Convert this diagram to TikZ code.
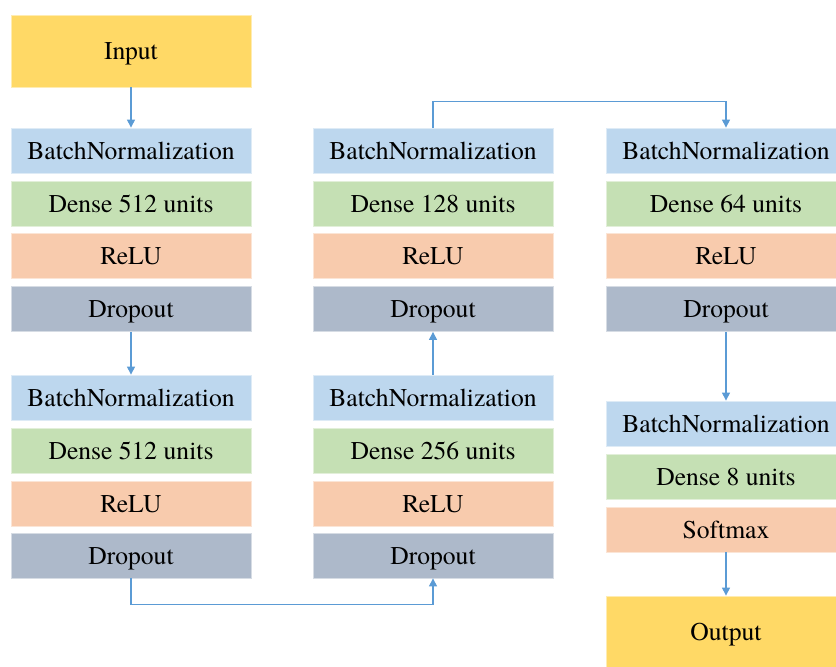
\documentclass[tikz,border=0pt]{standalone}
\usepackage{fontspec}
\setmainfont{texgyretermes-regular.otf}
\usepackage{tikz}
\usetikzlibrary{arrows.meta,positioning}
\definecolor{ioyellow}{HTML}{FFD966}
\definecolor{bnblue}{HTML}{BDD7EE}
\definecolor{densegreen}{HTML}{C5E0B4}
\definecolor{actorange}{HTML}{F8CBAD}
\definecolor{dropgray}{HTML}{ADB9CA}
\definecolor{flowblue}{HTML}{5B9BD5}

\tikzset{
    layer/.style={rectangle, minimum width=240pt, minimum height=45pt, inner sep=0pt, line width=0.8pt,
        text height=17pt, text depth=0pt, font=\fontsize{25.6}{30}\selectfont},
    bnlayer/.style={layer, fill=bnblue, draw=bnblue!50!white},
    denselayer/.style={layer, fill=densegreen, draw=densegreen!50!white},
    actlayer/.style={layer, fill=actorange, draw=actorange!50!white},
    droplayer/.style={layer, fill=dropgray, draw=dropgray!50!white},
    iolayer/.style={layer, minimum height=72pt, fill=ioyellow, draw=ioyellow!50!white},
    flow/.style={draw=flowblue, line width=1.1pt, -{Triangle[length=8pt,width=8pt]}}
}

\begin{document}
\begin{tikzpicture}[x=1pt, y=-1pt]
    \useasboundingbox (0,0) rectangle (836,667);

    % first column
    \node[iolayer] (input) at (131,51) {Input};
    \node[bnlayer] (bnA) at (131,150.5) {BatchNormalization};
    \node[denselayer] (denseA) at (131,203.5) {Dense 512 units};
    \node[actlayer] (reluA) at (131,256) {ReLU};
    \node[droplayer] (dropA) at (131,309) {Dropout};
    \node[bnlayer] (bnB) at (131,397.5) {BatchNormalization};
    \node[denselayer] (denseB) at (131,450.5) {Dense 512 units};
    \node[actlayer] (reluB) at (131,503.5) {ReLU};
    \node[droplayer] (dropB) at (131,555.5) {Dropout};

    % second column
    \node[bnlayer] (bnC) at (433,150.5) {BatchNormalization};
    \node[denselayer] (denseC) at (433,203.5) {Dense 128 units};
    \node[actlayer] (reluC) at (433,256) {ReLU};
    \node[droplayer] (dropC) at (433,309) {Dropout};
    \node[bnlayer] (bnD) at (433,397.5) {BatchNormalization};
    \node[denselayer] (denseD) at (433,450.5) {Dense 256 units};
    \node[actlayer] (reluD) at (433,503.5) {ReLU};
    \node[droplayer] (dropD) at (433,555.5) {Dropout};

    % third column
    \node[bnlayer] (bnE) at (726,150.5) {BatchNormalization};
    \node[denselayer] (denseE) at (726,203.5) {Dense 64 units};
    \node[actlayer] (reluE) at (726,256) {ReLU};
    \node[droplayer] (dropE) at (726,309) {Dropout};
    \node[bnlayer] (bnF) at (726,423.5) {BatchNormalization};
    \node[denselayer] (denseF) at (726,476.5) {Dense 8 units};
    \node[actlayer] (softF) at (726,529.5) {Softmax};
    \node[iolayer] (output) at (726,632) {Output};

    % connections
    \draw[flow] (input.south) -- (bnA.north);
    \draw[flow] (dropA.south) -- (bnB.north);
    \draw[flow] (dropB.south) -- ++(0,26) -| (dropD.south);
    \draw[flow] (bnD.north) -- (dropC.south);
    \draw[flow] (bnC.north) -- ++(0,-26) -| (bnE.north);
    \draw[flow] (dropE.south) -- (bnF.north);
    \draw[flow] (softF.south) -- (output.north);
\end{tikzpicture}
\end{document}
